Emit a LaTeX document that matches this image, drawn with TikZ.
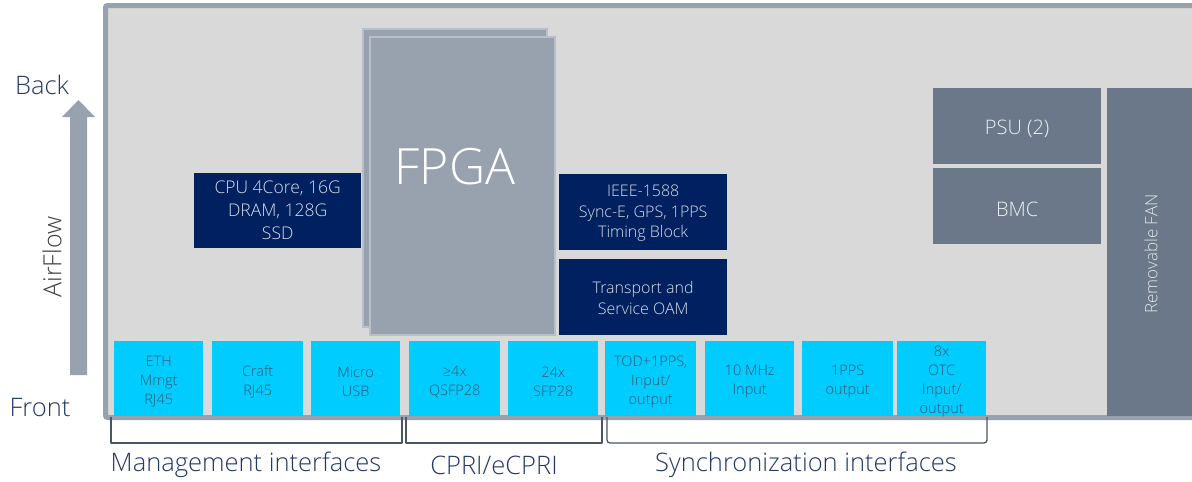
\documentclass[tikz,border=0pt]{standalone}
\usepackage{fontspec}
\setmainfont{Open Sans}[UprightFont=* Light]
\definecolor{chassis}{HTML}{D9D9D9}
\definecolor{frame}{HTML}{98A2AE}
\definecolor{fpgaedge}{HTML}{B8BFC8}
\definecolor{navy}{HTML}{002060}
\definecolor{slate}{HTML}{6B7889}
\definecolor{portfill}{HTML}{00CCFF}
\definecolor{porttext}{HTML}{35566F}
\definecolor{captext}{HTML}{22386A}
\definecolor{bracket}{HTML}{4A5568}
\newcommand{\fs}[2]{\fontsize{#1}{#2}\selectfont}
\tikzset{
  blk/.style={rectangle, inner sep=0pt, anchor=north west},
  txt/.style={inner sep=0pt, align=center},
  navyblk/.style={blk, fill=navy, minimum width=168, minimum height=76},
  navytxt/.style={txt, text=white!85!navy},
  slateblk/.style={blk, fill=slate},
  slatetxt/.style={txt, text=white!88!slate},
  port/.style={blk, fill=portfill, minimum height=75},
  porttxt/.style={txt, text=porttext, font=\fs{14.5}{19}},
  chip/.style={rectangle, inner sep=0pt, anchor=north west, fill=frame, draw=fpgaedge, line width=1.5},
  caption/.style={text=captext, font=\fs{25.5}{30}},
  brace/.style={draw=bracket, line width=1.3, line join=round},
}
% front-panel port: name, left edge, width, text
\newcommand{\port}[4]{%
  \node[port, minimum width=#3] (#1) at (#2,341) {};
  \node[porttxt] (#1text) at ([yshift=-3pt]#1.center) {#4};}
\begin{document}
\begin{tikzpicture}[x=1pt, y=-1pt]
\useasboundingbox (0,0) rectangle (1192,482);

% chassis outline
\draw[frame, line width=5, fill=chassis, rounded corners=2] (105.5,5.5) rectangle (1210,417.5);

% FPGA stacked dies
\node[chip, minimum width=184, minimum height=298] (fpgaback) at (362,28) {};
\node[chip, minimum width=185, minimum height=298] (fpga) at (369,36) {};
\node[text=white, font=\fs{50}{60}] (fpgalabel) at (455,167) {FPGA};

% processing blocks
\node[navyblk, minimum width=167, minimum height=75] (cpu) at (194,173) {};
\node[navytxt, font=\fs{17.5}{23}] (cputext) at (cpu.center) {CPU 4Core, 16G\\DRAM, 128G\\SSD};
\node[navyblk] (timing) at (559,174) {};
\node[navytxt, font=\fs{16}{20.5}] (timingtext) at ([yshift=-1pt]timing.center)
  {IEEE-1588\\Sync-E, GPS, 1PPS\\Timing Block};
\node[navyblk] (oam) at (559,259) {};
\node[navytxt, font=\fs{16}{20.5}] (oamtext) at ([yshift=-1pt]oam.center) {Transport and\\Service OAM};

% power, management, cooling
\node[slateblk, minimum width=168, minimum height=76] (psu) at (933,88) {};
\node[slatetxt, font=\fs{20}{22}] (psutext) at ([yshift=-3pt]psu.center) {PSU (2)};
\node[slateblk, minimum width=168, minimum height=76] (bmc) at (933,168) {};
\node[slatetxt, font=\fs{20}{22}] (bmctext) at ([yshift=-3pt]bmc.center) {BMC};
\node[slateblk, minimum width=100, minimum height=328] (fan) at (1107,88) {};
\node[text=white!80!slate, font=\fs{17}{18}, rotate=90] (fantext) at (1151,254) {Removable FAN};

% front-panel ports
\port{eth}{114}{89}{ETH\\Mmgt\\RJ45}
\port{craft}{212}{91}{Craft\\RJ45}
\port{usb}{311}{89}{Micro\\USB}
\port{qsfp}{409}{91}{≥4x\\QSFP28}
\port{sfp}{508}{90}{24x\\SFP28}
\port{tod}{605}{91}{TOD+1PPS,\\Input/\\output}
\port{mhz}{705}{89}{10 MHz\\Input}
\port{pps}{802}{91}{1PPS\\output}
\port{otc}{897}{89}{8x\\OTC\\Input/\\output}

% interface group brackets
\coordinate (m1) at (111,417); \coordinate (m2) at (402,417);
\coordinate (c1) at (406,417); \coordinate (c2) at (602,417);
\coordinate (s1) at (607,417); \coordinate (s2) at (987,417);
\draw[brace] (m1) -- ++(0,26) -| (m2);
\draw[brace] (c1) -- ++(0,26) -| (c2);
\draw[brace, rounded corners=3] (s1) -- ++(0,26) -| (s2);

\node[caption] (mgmt) at (246,465) {Management interfaces};
\node[caption] (cpri) at (494,465) {CPRI/eCPRI};
\node[caption] (sync) at (806,465) {Synchronization interfaces};

% airflow indicator
\fill[frame] (70,375) -- (70,117) -- (62,117) -- (78.5,100) -- (95,117) -- (87,117) -- (87,375) -- cycle;
\node[caption] (back) at (42,85) {Back};
\node[caption] (front) at (40,408) {Front};
\node[text=black!75, font=\fs{25}{30}, rotate=90] (airflow) at (52,257) {AirFlow};
\end{tikzpicture}
\end{document}
